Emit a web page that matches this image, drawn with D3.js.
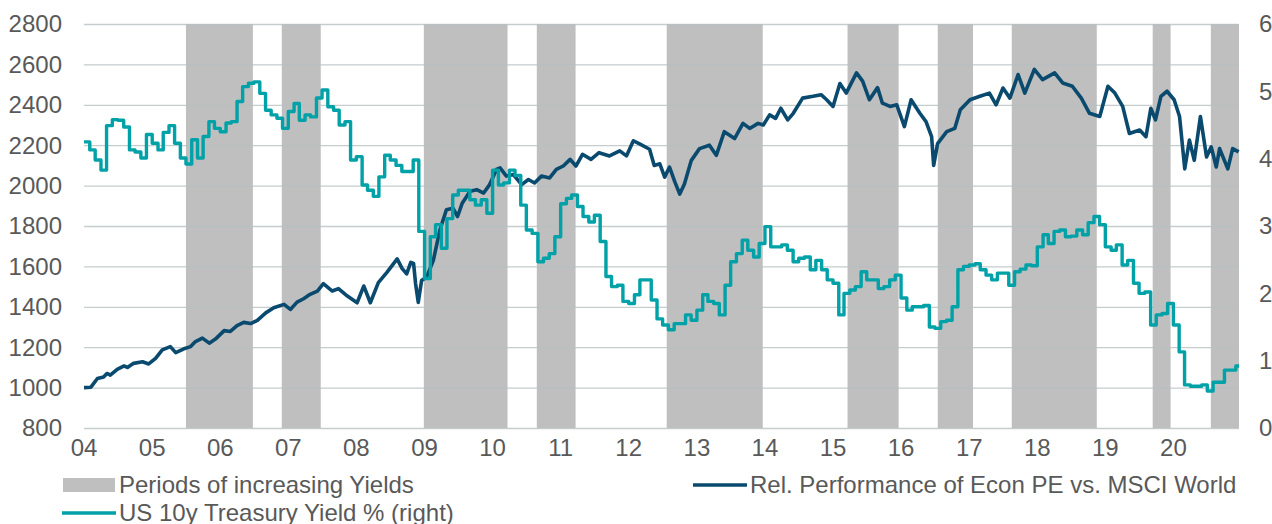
<!DOCTYPE html>
<meta charset="utf-8">
<style>
body { margin: 0; background: #fff; }
svg text { font-family: "Liberation Sans", Arial, sans-serif; fill: #595959; }
</style>
<body>
<svg width="1272" height="524"></svg>
<script src="https://d3js.org/d3.v7.min.js"></script>
<script>
// periods of increasing yields (start, end)
var shadeStart = ["2005-07-01", "2006-11-27", "2008-12-28", "2010-08-26", "2012-07-23", "2015-03-20", "2016-07-16", "2017-08-17", "2019-09-12", "2020-07-20"];
var shadeEnd   = ["2006-06-25", "2007-06-24", "2010-03-22", "2011-03-22", "2013-12-20", "2015-12-19", "2017-01-21", "2018-11-16", "2019-12-17", "2020-12-18"];

// US 10y yield, monthly, Jan 2004 .. Dec 2020
var yieldStart = "2004-01-01";
var yieldValues = [
  4.25,4.13,3.98,3.83,4.49,4.58,4.57,4.47,4.13,4.10,4.01,4.36,
  4.23,4.13,4.39,4.49,4.23,4.01,3.92,4.28,4.01,4.33,4.55,4.45,
  4.40,4.53,4.55,4.85,5.07,5.12,5.14,4.97,4.72,4.65,4.60,4.45,
  4.70,4.82,4.57,4.65,4.62,4.90,5.02,4.77,4.72,4.50,4.55,3.98,
  4.03,3.61,3.53,3.44,3.73,4.05,3.98,3.90,3.81,3.81,3.98,2.92,
  2.22,2.84,3.02,2.67,3.11,3.46,3.53,3.53,3.39,3.31,3.39,3.19,
  3.83,3.61,3.64,3.83,3.75,3.31,2.94,2.89,2.47,2.52,2.59,2.84,
  3.33,3.41,3.46,3.29,3.14,3.06,3.16,2.77,2.25,2.10,2.12,1.88,
  1.85,1.98,2.20,2.20,1.90,1.62,1.53,1.46,1.55,1.55,1.68,1.60,
  1.75,1.98,1.88,1.85,1.68,2.12,2.47,2.59,2.79,2.64,2.54,2.74,
  2.99,2.69,2.69,2.72,2.64,2.47,2.52,2.54,2.35,2.49,2.35,2.20,
  2.15,1.68,2.00,2.05,2.10,2.32,2.20,2.20,2.07,2.10,2.20,2.27,
  1.93,1.75,1.80,1.80,1.82,1.50,1.48,1.58,1.60,1.80,2.35,2.40,
  2.42,2.44,2.35,2.27,2.20,2.30,2.30,2.12,2.32,2.36,2.42,2.41,
  2.69,2.87,2.74,2.92,2.94,2.84,2.85,2.94,2.87,3.05,3.14,3.02,
  2.69,2.64,2.72,2.42,2.49,2.15,2.00,2.02,1.53,1.68,1.70,1.85,
  1.53,1.13,0.64,0.62,0.62,0.64,0.55,0.68,0.68,0.86,0.86,0.92
];

// relative performance of Econ PE vs. MSCI World
var perfDates = [
  "2004-01-01","2004-02-07","2004-03-13","2004-04-15","2004-05-03","2004-05-21","2004-06-27","2004-08-03","2004-08-21","2004-09-23","2004-11-10","2004-12-13",
  "2005-01-19","2005-02-24","2005-04-08","2005-05-07","2005-06-20","2005-07-26","2005-08-21","2005-09-27","2005-11-03","2005-12-06",
  "2006-01-22","2006-02-24","2006-04-01","2006-05-07","2006-06-13","2006-07-19","2006-09-02","2006-10-15","2006-12-09",
  "2007-01-12","2007-02-17","2007-03-24","2007-04-28","2007-06-06","2007-07-08","2007-08-25","2007-09-27","2007-11-14",
  "2008-01-05","2008-02-10","2008-03-16","2008-04-28","2008-06-13","2008-08-07","2008-09-02","2008-09-27","2008-10-19","2008-11-03","2008-11-14","2008-11-28","2008-12-16",
  "2009-01-12","2009-02-17","2009-03-24","2009-04-28","2009-06-02","2009-06-27","2009-07-22","2009-09-02","2009-10-08","2009-11-14","2009-12-16",
  "2010-01-22","2010-02-10","2010-03-16","2010-04-22","2010-06-06","2010-07-12","2010-08-14","2010-09-20","2010-11-03","2010-12-09",
  "2011-01-15","2011-02-21","2011-03-24","2011-04-28","2011-06-13","2011-07-26","2011-09-20","2011-11-14","2011-12-20",
  "2012-01-26","2012-03-02","2012-04-22","2012-05-17","2012-06-16","2012-07-12","2012-08-07","2012-09-05","2012-10-01","2012-10-26","2012-12-02",
  "2013-01-15","2013-03-09","2013-04-15","2013-05-28","2013-07-22","2013-09-05","2013-10-11","2013-11-25","2013-12-23",
  "2014-01-26","2014-02-27","2014-03-27","2014-05-03","2014-06-02","2014-07-22","2014-09-16","2014-10-29","2014-11-28",
  "2015-01-01","2015-02-07","2015-03-13","2015-05-07","2015-06-09","2015-07-15","2015-08-28","2015-09-23","2015-11-03","2015-12-09",
  "2016-01-19","2016-02-24","2016-04-11","2016-05-14","2016-06-13","2016-06-24","2016-07-15","2016-09-02","2016-10-15","2016-11-14",
  "2017-01-05","2017-02-27","2017-04-19","2017-05-25","2017-07-01","2017-08-07","2017-09-20","2017-10-26","2017-12-16",
  "2018-01-29","2018-04-04","2018-05-17","2018-07-08","2018-08-25","2018-10-08","2018-12-02",
  "2019-01-15","2019-02-21","2019-04-04","2019-05-10","2019-07-04","2019-08-07","2019-09-02","2019-09-27","2019-10-26","2019-11-28",
  "2020-01-05","2020-02-03","2020-03-02","2020-03-27","2020-04-22","2020-05-25","2020-06-27","2020-07-22","2020-08-18","2020-09-05","2020-10-19","2020-11-14","2020-12-16"
];
var perfValues = [
  1000,1002,1045,1053,1070,1062,1090,1107,1100,1120,1128,1117,
  1145,1187,1203,1173,1192,1203,1228,1245,1220,1240,
  1282,1278,1307,1323,1317,1333,1370,1395,1412,
  1387,1423,1440,1462,1478,1515,1478,1490,1453,
  1420,1503,1420,1520,1570,1637,1590,1563,1620,1615,1513,1422,1530,
  1547,1630,1780,1880,1888,1847,1913,1972,1980,1963,2005,
  2080,2088,2047,2055,2005,2030,2013,2047,2038,2080,
  2097,2130,2097,2155,2130,2163,2147,2172,2147,
  2222,2205,2180,2100,2108,2042,2092,2017,1958,2008,2125,
  2183,2200,2150,2267,2233,2308,2283,2308,2300,
  2350,2333,2383,2325,2358,2433,2442,2450,2425,
  2392,2505,2458,2558,2517,2425,2485,2408,2392,2400,
  2292,2425,2358,2317,2242,2100,2208,2267,2283,2375,
  2425,2442,2458,2400,2483,2433,2550,2458,2575,
  2525,2558,2508,2492,2433,2358,2342,
  2492,2458,2392,2258,2275,2242,2383,2325,2442,2467,
  2425,2342,2083,2225,2125,2342,2142,2192,2092,2183,2083,2183,2167
];

var leftTicks = [800,1000,1200,1400,1600,1800,2000,2200,2400,2600,2800];
var rightTicks = [0,1,2,3,4,5,6];
var yearTicks = ["2004","2005","2006","2007","2008","2009","2010","2011","2012","2013","2014","2015","2016","2017","2018","2019","2020"];
var xEnd = "2020-12-18";

var parse = d3.timeParse("%Y-%m-%d");
var svg = d3.select("svg");
var plotLeft = 84, plotRight = 1239, plotTop = 24, plotBottom = 428;

var x = d3.scaleTime().domain([parse("2004-01-01"), parse(xEnd)]).range([plotLeft, plotRight]);
var y = d3.scaleLinear().domain([800, 2800]).range([plotBottom, plotTop]);
var y2 = d3.scaleLinear().domain([0, 6]).range([plotBottom, plotTop]);

// shaded periods
svg.append("g").selectAll("rect")
  .data(shadeStart.map(function(d, i) { return [parse(d), parse(shadeEnd[i])]; }))
  .enter().append("rect")
    .attr("x", function(d) { return x(d[0]); })
    .attr("width", function(d) { return x(d[1]) - x(d[0]); })
    .attr("y", plotTop)
    .attr("height", plotBottom - plotTop)
    .attr("fill", "#bfbfbf");

// gridlines
svg.append("g").selectAll("line")
  .data(leftTicks)
  .enter().append("line")
    .attr("x1", plotLeft).attr("x2", plotRight)
    .attr("y1", function(d) { return y(d) + 0.5; })
    .attr("y2", function(d) { return y(d) + 0.5; })
    .attr("stroke", "#b7c0c2")
    .attr("stroke-opacity", 0.8)
    .attr("stroke-width", 1.3);

// left axis
svg.append("g").attr("font-size", 24).attr("text-anchor", "end")
  .selectAll("text").data(leftTicks).enter().append("text")
    .attr("x", 62).attr("y", function(d) { return y(d); }).attr("dy", "0.35em")
    .text(function(d) { return d; });

// right axis
svg.append("g").attr("font-size", 24).attr("text-anchor", "start")
  .selectAll("text").data(rightTicks).enter().append("text")
    .attr("x", 1259).attr("y", function(d) { return y2(d); }).attr("dy", "0.35em")
    .text(function(d) { return d; });

// x axis
var fmt = d3.timeFormat("%y");
svg.append("g").attr("font-size", 24).attr("text-anchor", "middle")
  .selectAll("text").data(yearTicks).enter().append("text")
    .attr("x", function(d) { return x(parse(d + "-01-01")); })
    .attr("y", 456)
    .text(function(d) { return fmt(parse(d + "-01-01")); });

// performance line
var perf = perfDates.map(function(d, i) { return { date: parse(d), value: perfValues[i] }; });
svg.append("path")
  .datum(perf)
  .attr("fill", "none")
  .attr("stroke", "#0a4a6e")
  .attr("stroke-width", 3.6)
  .attr("stroke-linejoin", "round")
  .attr("d", d3.line().x(function(d) { return x(d.date); }).y(function(d) { return y(d.value); }));

// yield step line
var months = d3.timeMonth.range(parse(yieldStart), parse(xEnd));
var yld = yieldValues.map(function(v, i) { return { date: months[i], value: v }; });
yld.push({ date: parse(xEnd), value: yieldValues[yieldValues.length - 1] });
svg.append("path")
  .datum(yld)
  .attr("fill", "none")
  .attr("stroke", "#00a2a8")
  .attr("stroke-width", 3.4)
  .attr("stroke-linejoin", "round")
  .attr("d", d3.line().curve(d3.curveStepAfter).x(function(d) { return x(d.date); }).y(function(d) { return y2(d.value); }));

// legend
var lg = svg.append("g").attr("font-size", 24);
lg.append("rect").attr("x", 63).attr("y", 478).attr("width", 52).attr("height", 14).attr("fill", "#bfbfbf");
lg.append("text").attr("x", 119).attr("y", 485).attr("dy", "0.35em").text("Periods of increasing Yields");
lg.append("line").attr("x1", 693).attr("x2", 747).attr("y1", 485).attr("y2", 485)
  .attr("stroke", "#0a4a6e").attr("stroke-width", 3.6);
lg.append("text").attr("x", 750).attr("y", 485).attr("dy", "0.35em").text("Rel. Performance of Econ PE vs. MSCI World");
lg.append("line").attr("x1", 62).attr("x2", 116).attr("y1", 513).attr("y2", 513)
  .attr("stroke", "#00a2a8").attr("stroke-width", 3.4);
lg.append("text").attr("x", 119).attr("y", 513).attr("dy", "0.35em").text("US 10y Treasury Yield % (right)");
</script>
</body>
